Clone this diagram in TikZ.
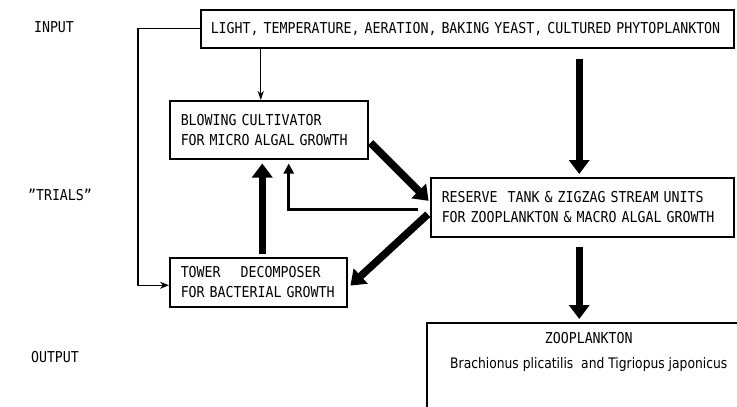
\documentclass[tikz,border=0pt]{standalone}
\usepackage{fontspec}
\setmainfont{DejaVu Sans Mono}[FakeStretch=0.885]
\newfontfamily\propf{DejaVu Sans}[FakeStretch=0.85]
\usetikzlibrary{arrows.meta}
\begin{document}
\begin{tikzpicture}[x=1pt,y=-1pt,
  box/.style={draw, line width=1.5pt, inner xsep=11pt, inner ysep=0pt, align=left, anchor=north west,
    font=\fontsize{15}{20}\selectfont},
  lbl/.style={font=\fontsize{15}{16}\selectfont, inner sep=0pt},
  thinarr/.style={line width=1pt, -{Stealth[length=9pt,width=6pt]}},
  loop/.style={line width=1.4pt, -{Stealth[length=9pt,width=7pt]}},
  thickarr/.style={line width=7.5pt, -{Triangle[length=14pt,width=20pt]}},
  midarr/.style={line width=3pt, -{Triangle[length=10pt,width=10pt]}},
]
\useasboundingbox (0,0) rectangle (737,407);

% side labels
\node[lbl] (inp) at (54,27) {INPUT};
\node[lbl] (tri) at (60,195) {\symbol{34}TRIALS\symbol{34}};
\node[lbl] (out) at (55,357) {OUTPUT};

% boxes
\node[box, minimum width=533pt, minimum height=38pt, inner xsep=10pt, text width=513pt] (top) at (200,9)
  {\mbox{LIGHT, TEMPERATURE, AERATION, BAKING YEAST, CULTURED PHYTOPLANKTON}};
\node[box, minimum width=198pt, minimum height=58pt, text width=176pt] (blow) at (169,100)
  {BLOWING CULTIVATOR\\FOR MICRO ALGAL GROWTH};
\node[box, minimum width=303pt, minimum height=59pt, text width=281pt] (res) at (430,177)
  {RESERVE\ \ TANK \& ZIGZAG STREAM UNITS\\FOR ZOOPLANKTON \& MACRO ALGAL GROWTH};
\node[box, minimum width=177pt, minimum height=49pt, text width=155pt] (tow) at (169,257)
  {TOWER\ \ \ \ DECOMPOSER\\FOR BACTERIAL GROWTH};
\node[box, minimum width=322pt, minimum height=95pt] (zoo) at (426,322) {};
\node[align=center, anchor=north, font=\fontsize{15}{25}\selectfont, inner sep=0pt] (zootxt)
  at ([xshift=1pt, yshift=-10pt]zoo.north)
  {ZOOPLANKTON\\{\propf\fontsize{14.5}{25}\selectfont Brachionus plicatilis\ \ and Tigriopus japonicus}};

% connectors
\draw[thinarr] ([xshift=-8pt]blow.north |- top.south) -- ([xshift=-8pt]blow.north);
\draw[loop] (top.west) -- ++(-62,0) |- ([yshift=-3pt]tow.west);
\draw[thickarr, shorten >=3pt] ([xshift=-3pt, yshift=-10pt]res.north |- top.south) -- ([xshift=-3pt]res.north);
\draw[thickarr, shorten >=3pt] ([xshift=-3pt, yshift=-9pt]res.south) -- ([xshift=-3pt]res.south |- zoo.north);
\draw[thickarr, shorten <=3pt, shorten >=2pt] ([yshift=-11pt]blow.east) -- ([yshift=5pt]res.west);
\draw[thickarr, shorten <=3pt, shorten >=4pt] ([yshift=-5pt]res.west) -- ([yshift=-6pt]tow.east);
\draw[midarr, shorten >=4pt] ([xshift=-12pt, yshift=-2pt]res.west) -| ([xshift=20pt]blow.south);
\draw[thickarr, shorten <=3pt, shorten >=4pt] ([xshift=4pt]tow.north) -- ([xshift=4pt]tow.north |- blow.south);
\end{tikzpicture}
\end{document}
